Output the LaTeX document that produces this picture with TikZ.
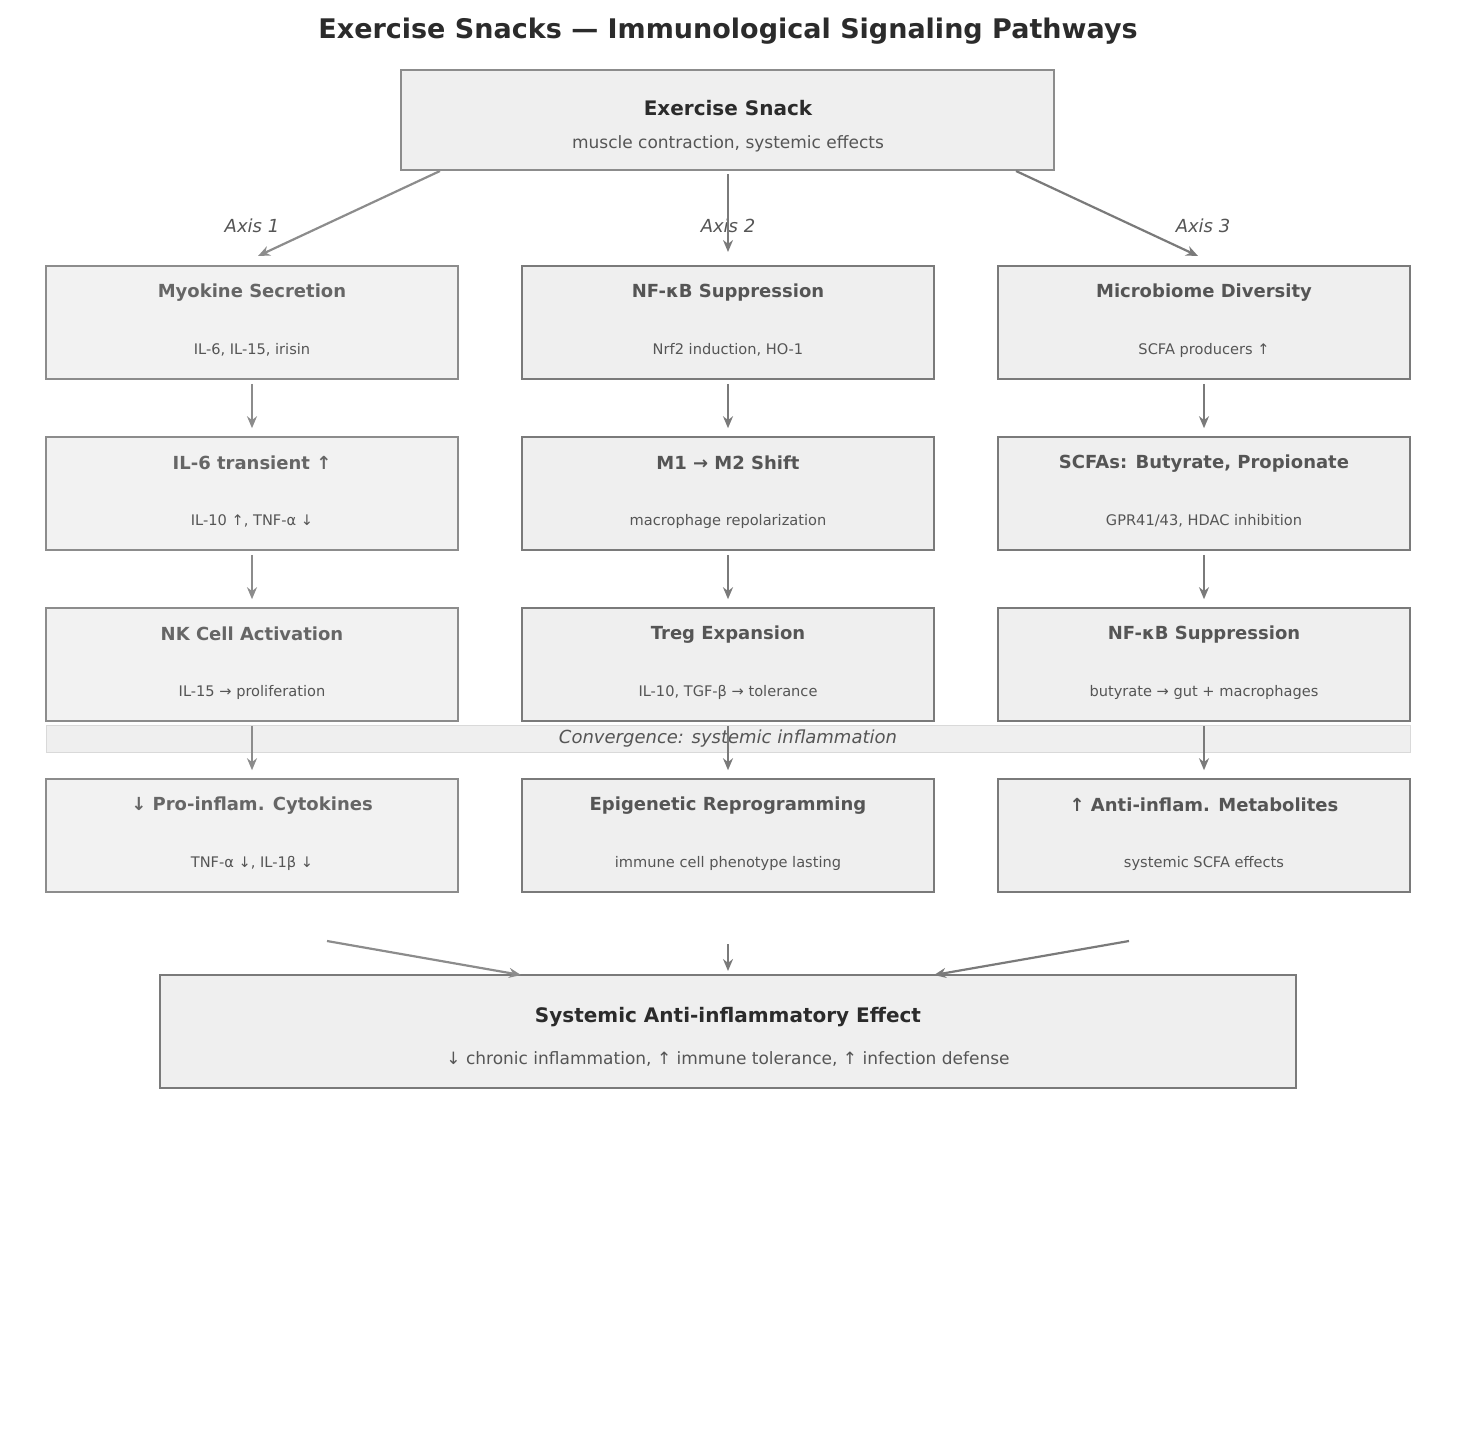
\documentclass[tikz,border=0pt]{standalone}
\usepackage{fontspec}
\setmainfont{DejaVu Sans}
\usetikzlibrary{arrows.meta}
\definecolor{bA}{HTML}{8C8C8C}\definecolor{bB}{HTML}{7A7A7A}
\definecolor{fA}{HTML}{F2F2F2}\definecolor{fB}{HTML}{EFEFEF}
\definecolor{tA}{HTML}{666666}\definecolor{tB}{HTML}{555555}
\definecolor{dark}{HTML}{2B2B2B}
\begin{document}
\begin{tikzpicture}[x=0.5pt,y=-0.5pt,
 box/.style={draw=#1,line width=0.8pt,inner sep=0},
 ar/.style={draw=#1,line width=1.1pt,-{Stealth[length=6pt,width=5pt]}},
 ttl/.style={font=\bfseries\fontsize{9}{11}\selectfont},
 sub/.style={font=\fontsize{7.3}{9}\selectfont,text=tB}]
\useasboundingbox (0,0) rectangle (1456,1456);
\node[font=\bfseries\fontsize{13.5}{16}\selectfont,text=dark] (title) at (728,31) {Exercise Snacks — Immunological Signaling Pathways};
% top box
\path[box=bA,fill=fB] (401,70) rectangle (1054,170);
\node[box=bA,draw=none,minimum width=326.5pt,minimum height=50pt] (top) at (727.5,120) {};
\node[font=\bfseries\fontsize{10}{12}\selectfont,text=dark] (topt) at (728,108) {Exercise Snack};
\node[font=\fontsize{8.5}{10}\selectfont,text=tB] (tops) at (728,144) {muscle contraction, systemic effects};
% convergence band
\path[fill=fB,draw=black!15,line width=0.5pt] (46,725) rectangle (1410,752);
\node[font=\itshape\fontsize{9}{11}\selectfont,text=tB] (conv) at (728,739) {Convergence: systemic inflammation};
% axis labels
\foreach \x/\n in {252/1,728/2,1203/3}
 \node[font=\itshape\fontsize{9}{11}\selectfont,text=tB] (axis\n) at (\x,226) {Axis \n};
% grid boxes
\foreach \c/\x/\bc/\fc/\tc in {1/252/bA/fA/tA,2/728/bB/fB/tB,3/1204/bB/fB/tB}{
 \foreach \r/\y in {1/322.5,2/493.5,3/664.5,4/835.5}{
  \node[box=\bc,fill=\fc,minimum width=206pt,minimum height=56.5pt] (b\c\r) at (\x,\y) {};
 }
}
\newcommand{\btxt}[4]{%
 \node[ttl,text=#2] at ([yshift=-13.5pt]#1.north) {#3};
 \node[sub] at ([yshift=-42.5pt]#1.north) {#4};}
\btxt{b11}{tA}{Myokine Secretion}{IL-6, IL-15, irisin}
\btxt{b12}{tA}{IL-6 transient ↑}{IL-10 ↑, TNF-α ↓}
\btxt{b13}{tA}{NK Cell Activation}{IL-15 → proliferation}
\btxt{b14}{tA}{↓ Pro-inflam. Cytokines}{TNF-α ↓, IL-1β ↓}
\btxt{b21}{tB}{NF-κB Suppression}{Nrf2 induction, HO-1}
\btxt{b22}{tB}{M1 → M2 Shift}{macrophage repolarization}
\btxt{b23}{tB}{Treg Expansion}{IL-10, TGF-β → tolerance}
\btxt{b24}{tB}{Epigenetic Reprogramming}{immune cell phenotype lasting}
\btxt{b31}{tB}{Microbiome Diversity}{SCFA producers ↑}
\btxt{b32}{tB}{SCFAs: Butyrate, Propionate}{GPR41/43, HDAC inhibition}
\btxt{b33}{tB}{NF-κB Suppression}{butyrate → gut + macrophages}
\btxt{b34}{tB}{↑ Anti-inflam. Metabolites}{systemic SCFA effects}
% bottom box
\node[box=bB,fill=fB,minimum width=568pt,minimum height=56.5pt] (bot) at (728,1031.5) {};
\node[font=\bfseries\fontsize{10}{12}\selectfont,text=dark] at (728,1017) {Systemic Anti-inflammatory Effect};
\node[font=\fontsize{8.5}{10}\selectfont,text=tB] at (728,1059) {↓ chronic inflammation, ↑ immune tolerance, ↑ infection defense};
% arrows top
\coordinate (s1) at (440,171); \coordinate (e1) at (258,256);
\coordinate (s2) at (728,174); \coordinate (e2) at (728,252);
\coordinate (s3) at (1016,171); \coordinate (e3) at (1198,256);
\draw[ar=bA] (s1) -- (e1);
\draw[ar=bB] (s2) -- (e2);
\draw[ar=bB] (s3) -- (e3);
% column arrows
\foreach \c/\col in {1/bA,2/bB,3/bB}{
 \draw[ar=\col] ([yshift=-2pt]b\c1.south) -- ([yshift=4pt]b\c2.north);
 \draw[ar=\col] ([yshift=-2pt]b\c2.south) -- ([yshift=4pt]b\c3.north);
 \draw[ar=\col] ([yshift=-2pt]b\c3.south) -- ([yshift=4pt]b\c4.north);
}
% bottom arrows
\coordinate (u1) at (327,941); \coordinate (v1) at (521,975);
\coordinate (u2) at (728,944); \coordinate (v2) at (728,971);
\coordinate (u3) at (1129,941); \coordinate (v3) at (934,975);
\draw[ar=bA] (u1) -- (v1);
\draw[ar=bB] (u2) -- (v2);
\draw[ar=bB] (u3) -- (v3);
\end{tikzpicture}
\end{document}
